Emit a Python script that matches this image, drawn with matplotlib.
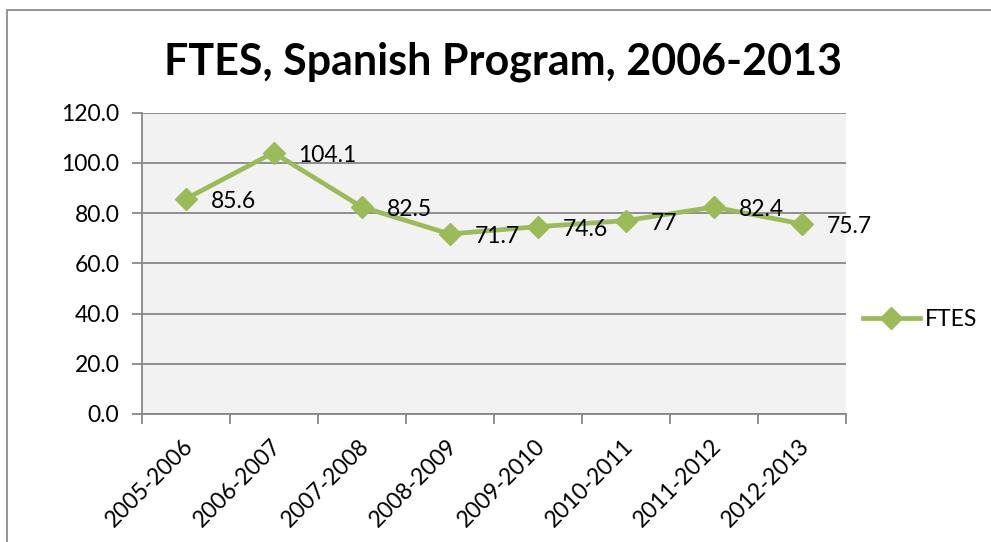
import matplotlib
matplotlib.use("Agg")
import matplotlib.pyplot as plt
import matplotlib.transforms as mtransforms
from matplotlib.patches import Rectangle
from matplotlib.lines import Line2D

categories = ["2005-2006", "2006-2007", "2007-2008", "2008-2009",
              "2009-2010", "2010-2011", "2011-2012", "2012-2013"]
ftes = [85.6, 104.1, 82.5, 71.7, 74.6, 77, 82.4, 75.7]
point_labels = ["85.6", "104.1", "82.5", "71.7", "74.6", "77", "82.4", "75.7"]
yticks = [0, 20, 40, 60, 80, 100, 120]
title = "FTES, Spanish Program, 2006-2013"
series_name = "FTES"

plt.rcParams['font.family'] = ['Lato', 'DejaVu Sans']

W, H = 991, 542
fig = plt.figure(figsize=(W / 100, H / 100), dpi=100)
fig.patch.set_facecolor('white')

# outer chart border
fig.add_artist(Rectangle((7 / W, -0.05), 1.2, 1 - 10 / H + 0.05,
                         transform=fig.transFigure, fill=False,
                         edgecolor='#8c8c8c', linewidth=1.3))

left, right, top, bottom = 141.5, 845.7, 112.7, 414
ax = fig.add_axes([left / W, 1 - bottom / H, (right - left) / W, (bottom - top) / H])
ax.set_facecolor('#F2F2F2')

green = '#9BBB59'
grid_c = '#878787'
x = list(range(len(categories)))
ax.plot(x, ftes, color=green, linewidth=3.4, marker='D', markersize=11.5,
        markerfacecolor=green, markeredgecolor=green, zorder=3, clip_on=False)

for xi, yi, lab in zip(x, ftes, point_labels):
    ax.annotate(lab, (xi, yi), xytext=(18, -2), textcoords='offset points',
                ha='left', va='center', fontsize=16.5, color='black', zorder=4)

ax.set_xlim(-0.5, len(categories) - 0.5)
ax.set_ylim(0, 120)
ax.set_yticks(yticks)
ax.set_yticklabels([f"{v:.1f}" for v in yticks], fontsize=16.5)
ax.yaxis.grid(True, color=grid_c, linewidth=1.3)
ax.set_axisbelow(True)

ax.set_xticks([i + 0.5 for i in range(-1, len(categories))], minor=False)
ax.set_xticklabels([])
ax.set_xticks(x, minor=True)
ax.set_xticklabels(categories, minor=True, rotation=45, ha='right',
                   va='center', rotation_mode='anchor', fontsize=16.5)
ax.tick_params(axis='x', which='minor', length=0, pad=21)
ax.tick_params(axis='x', which='major', length=7, color=grid_c, width=1.3, direction='out')
ax.tick_params(axis='y', length=7, color=grid_c, width=1.3, direction='out', pad=9)

shift = mtransforms.ScaledTranslation(4 / 100, 0, fig.dpi_scale_trans)
for lbl in ax.get_xticklabels(minor=True):
    lbl.set_transform(lbl.get_transform() + shift)

for s in ['top', 'right']:
    ax.spines[s].set_visible(False)
for s in ['left', 'bottom']:
    ax.spines[s].set_color(grid_c)
    ax.spines[s].set_linewidth(1.3)

fig.text(503 / W, 1 - 62 / H, title, ha='center', va='center',
         fontsize=31, fontweight='bold')

handle = Line2D([], [], color=green, linewidth=3.4, marker='D', markersize=11.5,
                markerfacecolor=green, markeredgecolor=green)
fig.legend([handle], [series_name], loc='center left',
           bbox_to_anchor=(842 / W, 1 - 320 / H), frameon=False, fontsize=16.5,
           handlelength=2.5, handletextpad=0.2)

fig.savefig('out.png', dpi=100)
